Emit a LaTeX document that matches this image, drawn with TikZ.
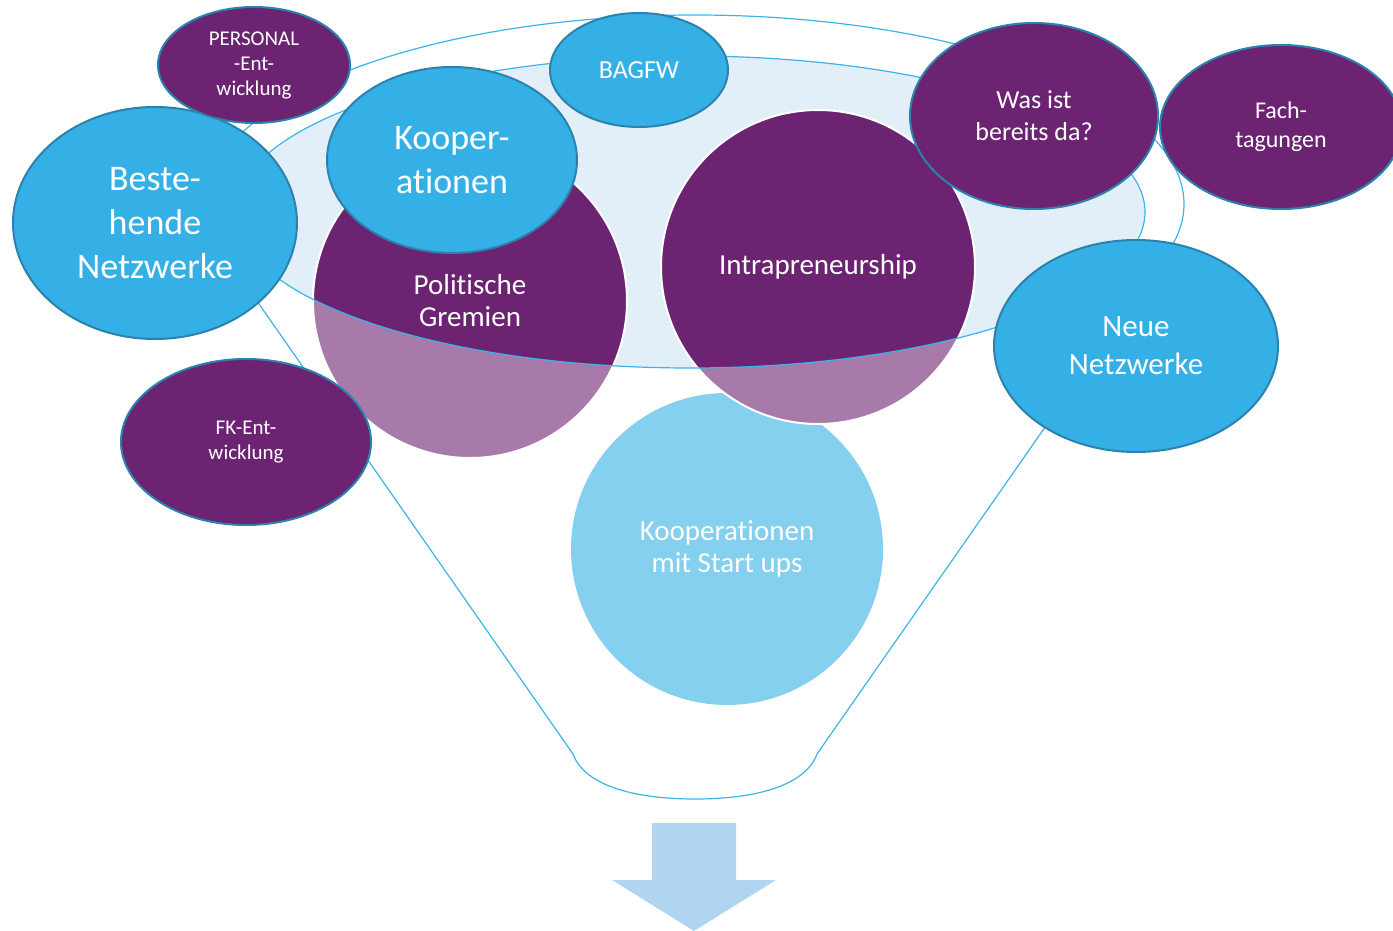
\documentclass[tikz,border=0pt]{standalone}
\usepackage{fontspec}
\setmainfont{Carlito}[Ligatures=NoCommon]
\usetikzlibrary{shapes.geometric}
\definecolor{dpurple}{HTML}{6C2371}
\definecolor{lpurple}{HTML}{A77AA9}
\definecolor{bblue}{HTML}{34B0E6}
\definecolor{lblue}{HTML}{85CFEF}
\definecolor{bordc}{HTML}{2B82AC}
\definecolor{fline}{HTML}{3CB4E8}
\definecolor{ellfill}{HTML}{E2EFF9}
\definecolor{arrowc}{HTML}{AFD5F1}
\begin{document}
\begin{tikzpicture}[x=1pt,y=-1pt,
  oval/.style={ellipse, draw=bordc, line width=2pt, inner sep=0pt, text=white, align=center},
  blueoval/.style={oval, fill=bblue},
  purpleoval/.style={oval, fill=dpurple},
  bigcircle/.style={circle, draw=white, line width=2pt, inner sep=0pt, text=white, align=center, minimum size=314pt},
  funnelline/.style={draw=fline, line width=1.2pt},
]
\useasboundingbox (0,0) rectangle (1393,931);

% funnel outline
\draw[funnelline] (216.7,243.3) arc[start angle=168, end angle=372, x radius=489, y radius=189]
  -- (817,754) .. controls (806,784) and (760,799) .. (695,799)
  .. controls (630,799) and (584,784) .. (573,754) -- cycle;

% inner surface
\fill[ellfill] (690,212) ellipse (455 and 156);

% circles inside the funnel
\node[circle, fill=lblue, minimum size=312pt, inner sep=0pt, text=white, align=center,
  font=\fontsize{29}{32}\selectfont] (startups) at (727,549) {Kooperationen\\mit Start ups};

\fill[lpurple] (470,301) circle (157);
\fill[lpurple] (818,267) circle (157);
\begin{scope}
  \clip (690,212) ellipse (455 and 156);
  \fill[dpurple] (470,301) circle (157);
  \fill[dpurple] (818,267) circle (157);
\end{scope}
\node[bigcircle, font=\fontsize{29}{32}\selectfont] (polit) at (470,301) {Politische\\Gremien};
\node[bigcircle, font=\fontsize{29}{32}\selectfont] (intra) at (818,267) {Intrapreneurship};

\draw[funnelline] (690,212) ellipse (455 and 156);

% ovals
\node[blueoval, minimum width=284pt, minimum height=232pt, font=\fontsize{36}{44}\selectfont]
  (beste) at (155,223) {Beste-\\hende\\Netzwerke};
\node[purpleoval, minimum width=192pt, minimum height=116pt, font=\fontsize{21}{25}\selectfont]
  (personal) at (254,65) {PERSONAL\\-Ent-\\wicklung};
\node[blueoval, minimum width=250pt, minimum height=186pt, font=\fontsize{36}{44}\selectfont]
  (koop) at (452,160) {Kooper-\\ationen};
\node[blueoval, minimum width=178pt, minimum height=114pt, font=\fontsize{26}{32}\selectfont]
  (bagfw) at (639,70) {BAGFW};
\node[purpleoval, minimum width=248pt, minimum height=186pt, font=\fontsize{26}{32}\selectfont]
  (wasist) at (1034,116) {Was ist\\bereits da?};
\node[purpleoval, minimum width=242pt, minimum height=164pt, font=\fontsize{24}{29}\selectfont]
  (fach) at (1281,127) {Fach-\\tagungen};
\node[blueoval, minimum width=284pt, minimum height=212pt, font=\fontsize{31}{38}\selectfont]
  (neue) at (1136,346) {Neue\\Netzwerke};
\node[purpleoval, minimum width=250pt, minimum height=166pt, font=\fontsize{21}{25}\selectfont]
  (fk) at (246,442) {FK-Ent-\\wicklung};

% arrow
\fill[arrowc] (652,823) -- (736,823) -- (736,880) -- (776,880) -- (694,931) -- (612,880) -- (652,880) -- cycle;
\end{tikzpicture}
\end{document}
